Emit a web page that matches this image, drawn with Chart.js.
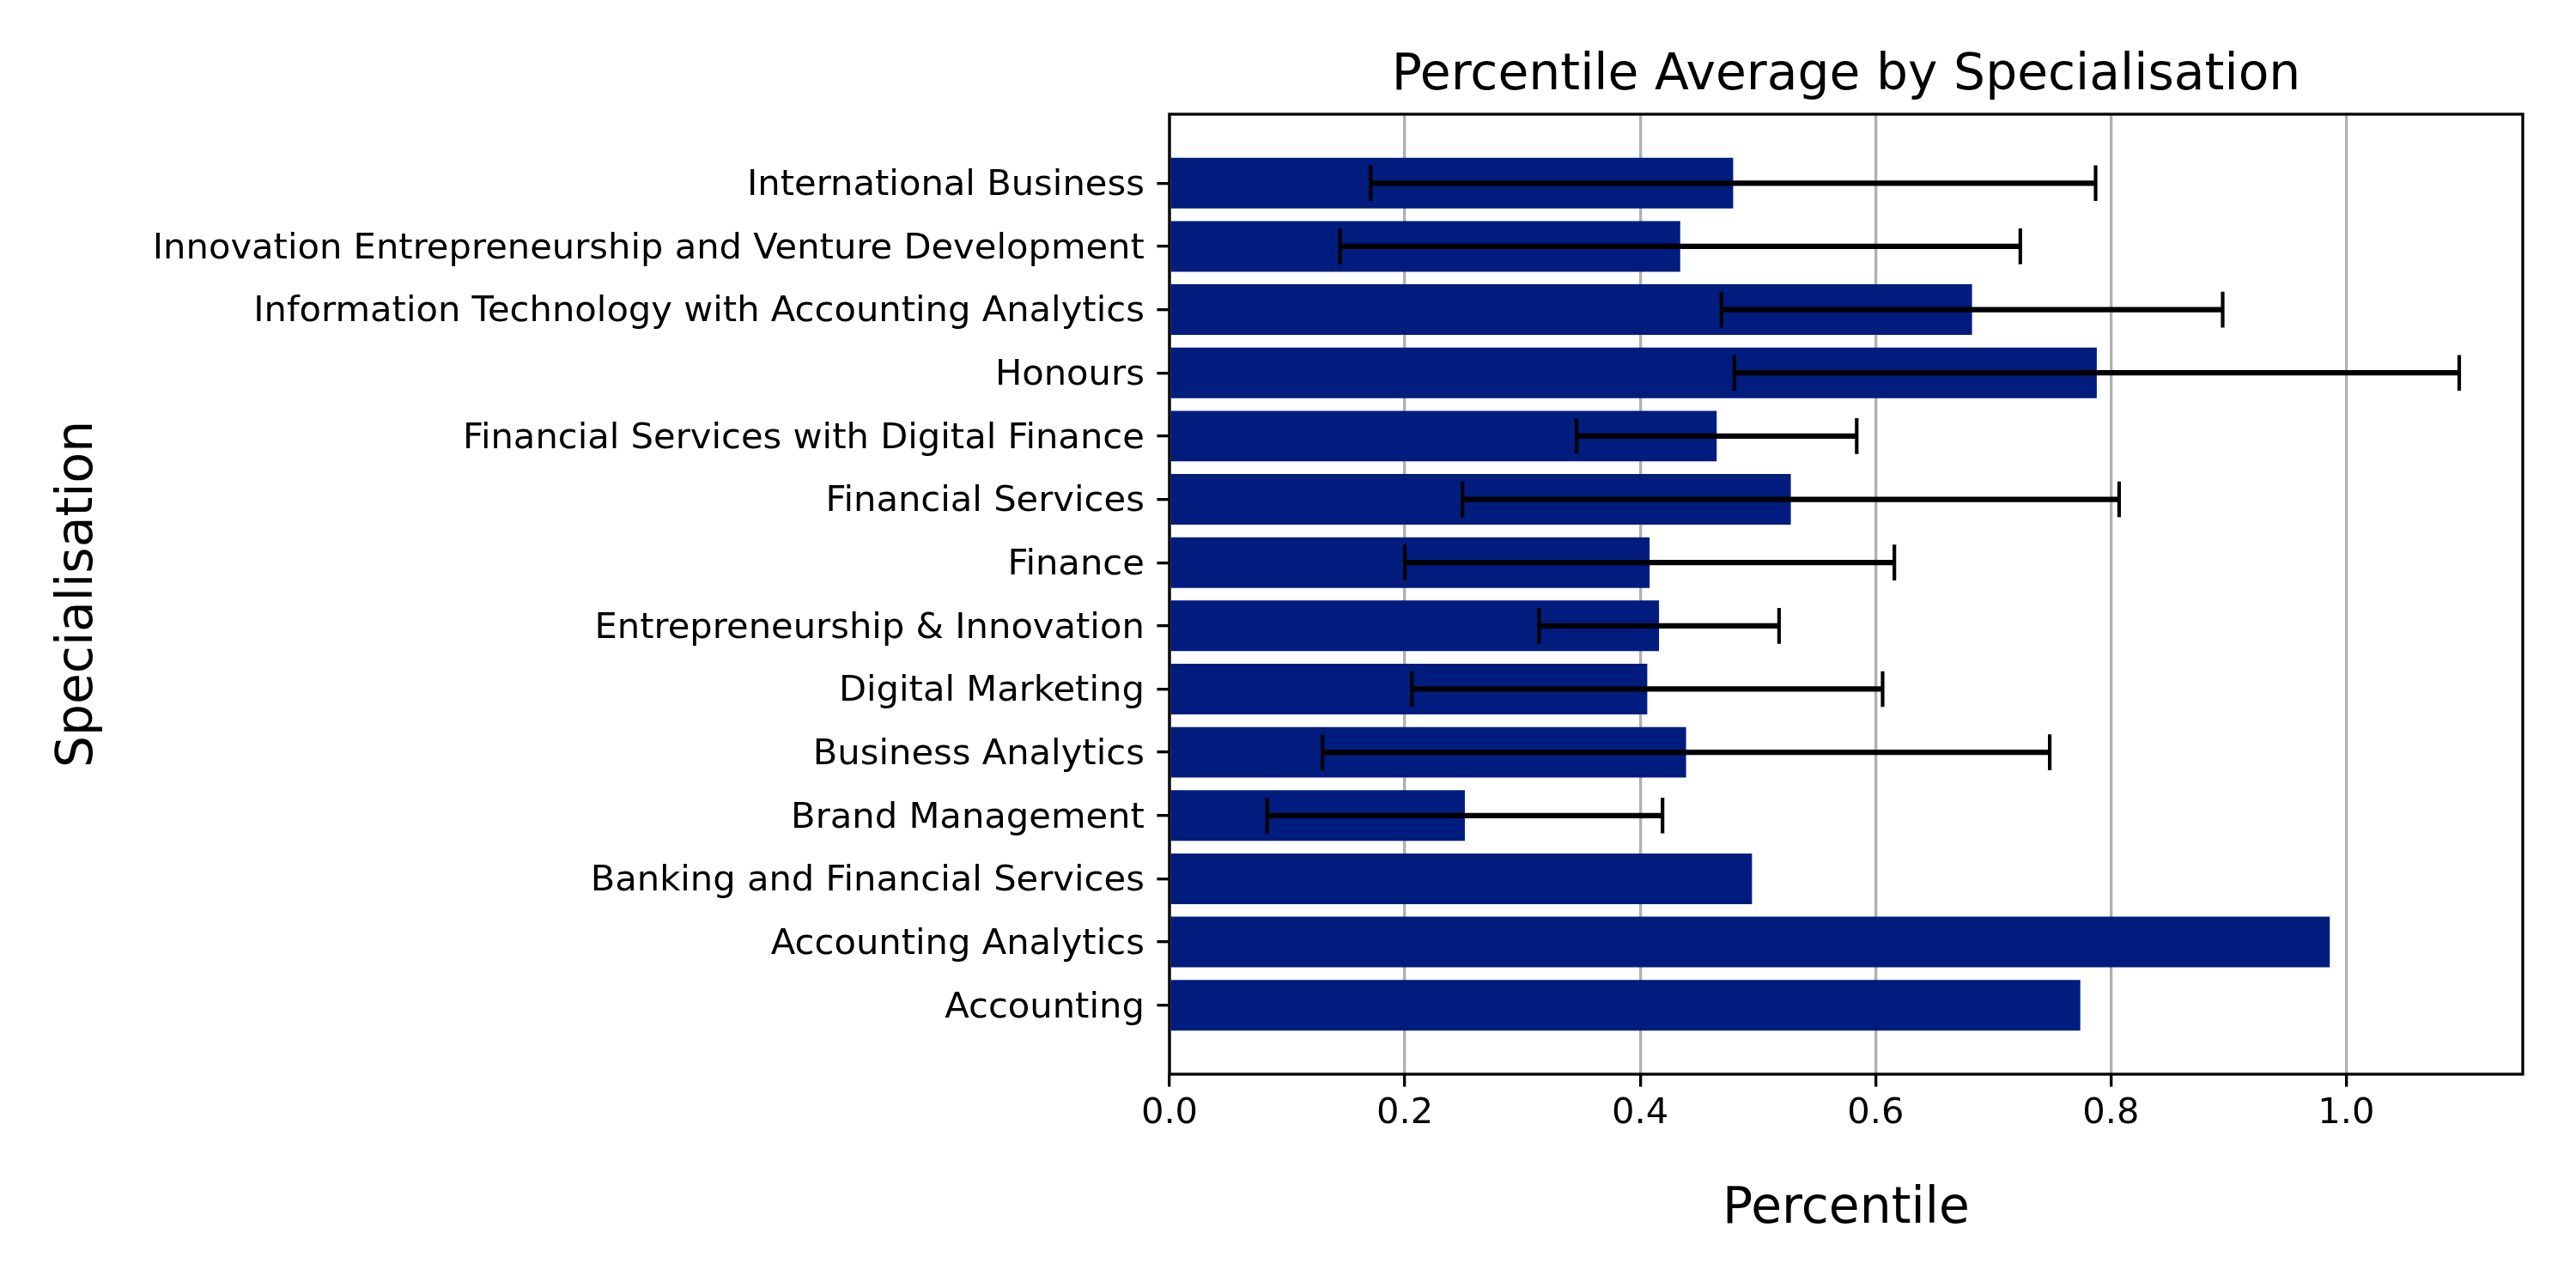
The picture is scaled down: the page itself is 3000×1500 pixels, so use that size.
<!DOCTYPE html>
<html>
<head>
<meta charset="utf-8">
<script src="https://cdn.jsdelivr.net/npm/chart.js@4/dist/chart.umd.min.js"></script>
<style>
  html, body { margin: 0; padding: 0; background: #ffffff; }
  #c { display: block; }
</style>
</head>
<body>
<canvas id="c" width="3000" height="1500" style="width:3000px;height:1500px;"></canvas>
<script>
// ---- data (bottom to top, as plotted) ----
const categories = [
  "Accounting",
  "Accounting Analytics",
  "Banking and Financial Services",
  "Brand Management",
  "Business Analytics",
  "Digital Marketing",
  "Entrepreneurship & Innovation",
  "Finance",
  "Financial Services",
  "Financial Services with Digital Finance",
  "Honours",
  "Information Technology with Accounting Analytics",
  "Innovation Entrepreneurship and Venture Development",
  "International Business"
];
const meanPercentile = [0.774, 0.986, 0.495, 0.251, 0.439, 0.406, 0.416, 0.408, 0.528, 0.465, 0.788, 0.682, 0.434, 0.479];
const stdPercentile  = [null, null, null, 0.168, 0.309, 0.200, 0.102, 0.208, 0.279, 0.119, 0.308, 0.213, 0.289, 0.308];
const xTickValues = [0.0, 0.2, 0.4, 0.6, 0.8, 1.0];
const xTickLabels = ["0.0", "0.2", "0.4", "0.6", "0.8", "1.0"];
const xMax = 1.15;
const yMin = -1.09, yMax = 14.09;

const chartTitle = "Percentile Average by Specialisation";
const xTitle = "Percentile";
const yTitle = "Specialisation";

// ---- styles ----
const PT = 300 / 72;
const FONT = "'DejaVu Sans', sans-serif";
const barColor = "#001c7f";

const points = categories.map((c, i) => ({ x: meanPercentile[i], y: i }));
const yPositions = categories.map((c, i) => i);

const errorBarPlugin = {
  id: 'errorBars',
  afterDraw(chart) {
    const ctx = chart.ctx;
    const xs = chart.scales.x, ys = chart.scales.y;
    const cap = 5 * PT;
    ctx.save();
    ctx.strokeStyle = '#000000';
    ctx.lineCap = 'butt';
    for (let i = 0; i < categories.length; i++) {
      const s = stdPercentile[i];
      if (s === null || s === undefined) continue;
      const m = meanPercentile[i];
      const x0 = xs.getPixelForValue(m - s);
      const x1 = xs.getPixelForValue(m + s);
      const y = ys.getPixelForValue(i);
      ctx.lineWidth = 1.5 * PT;
      ctx.beginPath();
      ctx.moveTo(x0, y); ctx.lineTo(x1, y);
      ctx.stroke();
      ctx.lineWidth = 1.0 * PT;
      ctx.beginPath();
      ctx.moveTo(x0, y - cap); ctx.lineTo(x0, y + cap);
      ctx.moveTo(x1, y - cap); ctx.lineTo(x1, y + cap);
      ctx.stroke();
    }
    ctx.restore();
  }
};

const framePlugin = {
  id: 'frame',
  afterDraw(chart) {
    const a = chart.chartArea, ctx = chart.ctx;
    ctx.save();
    ctx.strokeStyle = '#000000';
    ctx.lineWidth = 0.8 * PT;
    ctx.strokeRect(a.left, a.top, a.right - a.left, a.bottom - a.top);
    ctx.restore();
  }
};

new Chart(document.getElementById('c'), {
  type: 'bar',
  data: {
    datasets: [{
      data: points,
      backgroundColor: barColor,
      borderWidth: 0,
      categoryPercentage: 1.0,
      barPercentage: 0.8
    }]
  },
  options: {
    indexAxis: 'y',
    responsive: false,
    devicePixelRatio: 1,
    animation: false,
    layout: { padding: { left: 0, right: 62, top: 0, bottom: 0 } },
    plugins: {
      legend: { display: false },
      tooltip: { enabled: false },
      title: {
        display: true,
        text: chartTitle,
        fullSize: false,
        color: '#000000',
        font: { family: FONT, size: 14 * PT, weight: 'normal', lineHeight: 1.2 },
        padding: { top: 54, bottom: 9 }
      }
    },
    scales: {
      x: {
        type: 'linear',
        position: 'bottom',
        min: 0,
        max: xMax,
        offset: false,
        z: 1,
        afterBuildTicks(scale) { scale.ticks = xTickValues.map(v => ({ value: v })); },
        afterFit(scale) { scale.height = 249; },
        grid: {
          display: true,
          offset: false,
          drawOnChartArea: true,
          drawTicks: true,
          color: '#b0b0b0',
          lineWidth: 0.8 * PT,
          tickColor: '#000000',
          tickWidth: 0.8 * PT,
          tickLength: 3.5 * PT
        },
        border: { display: false },
        ticks: {
          color: '#000000',
          font: { family: FONT, size: 10 * PT },
          padding: 7,
          maxRotation: 0,
          autoSkip: false,
          callback(value, index) { return xTickLabels[index]; }
        },
        title: {
          display: true,
          text: xTitle,
          color: '#000000',
          font: { family: FONT, size: 14 * PT, lineHeight: 1.2 },
          padding: { top: 0, bottom: 56 }
        }
      },
      y: {
        type: 'linear',
        position: 'left',
        min: yMin,
        max: yMax,
        offset: false,
        afterBuildTicks(scale) { scale.ticks = yPositions.map(v => ({ value: v })); },
        afterFit(scale) { scale.width = 1362; },
        grid: {
          display: true,
          offset: false,
          drawOnChartArea: false,
          drawTicks: true,
          color: '#000000',
          lineWidth: 0.8 * PT,
          tickColor: '#000000',
          tickWidth: 0.8 * PT,
          tickLength: 3.5 * PT
        },
        border: { display: false },
        ticks: {
          color: '#000000',
          font: { family: FONT, size: 10 * PT },
          padding: 3.5 * PT,
          labelOffset: 3,
          autoSkip: false,
          callback(value, index) { return categories[index]; }
        },
        title: {
          display: true,
          text: yTitle,
          color: '#000000',
          font: { family: FONT, size: 14 * PT, lineHeight: 1.2 },
          padding: { top: 57, bottom: 0 }
        }
      }
    }
  },
  plugins: [errorBarPlugin, framePlugin]
});
</script>
</body>
</html>
